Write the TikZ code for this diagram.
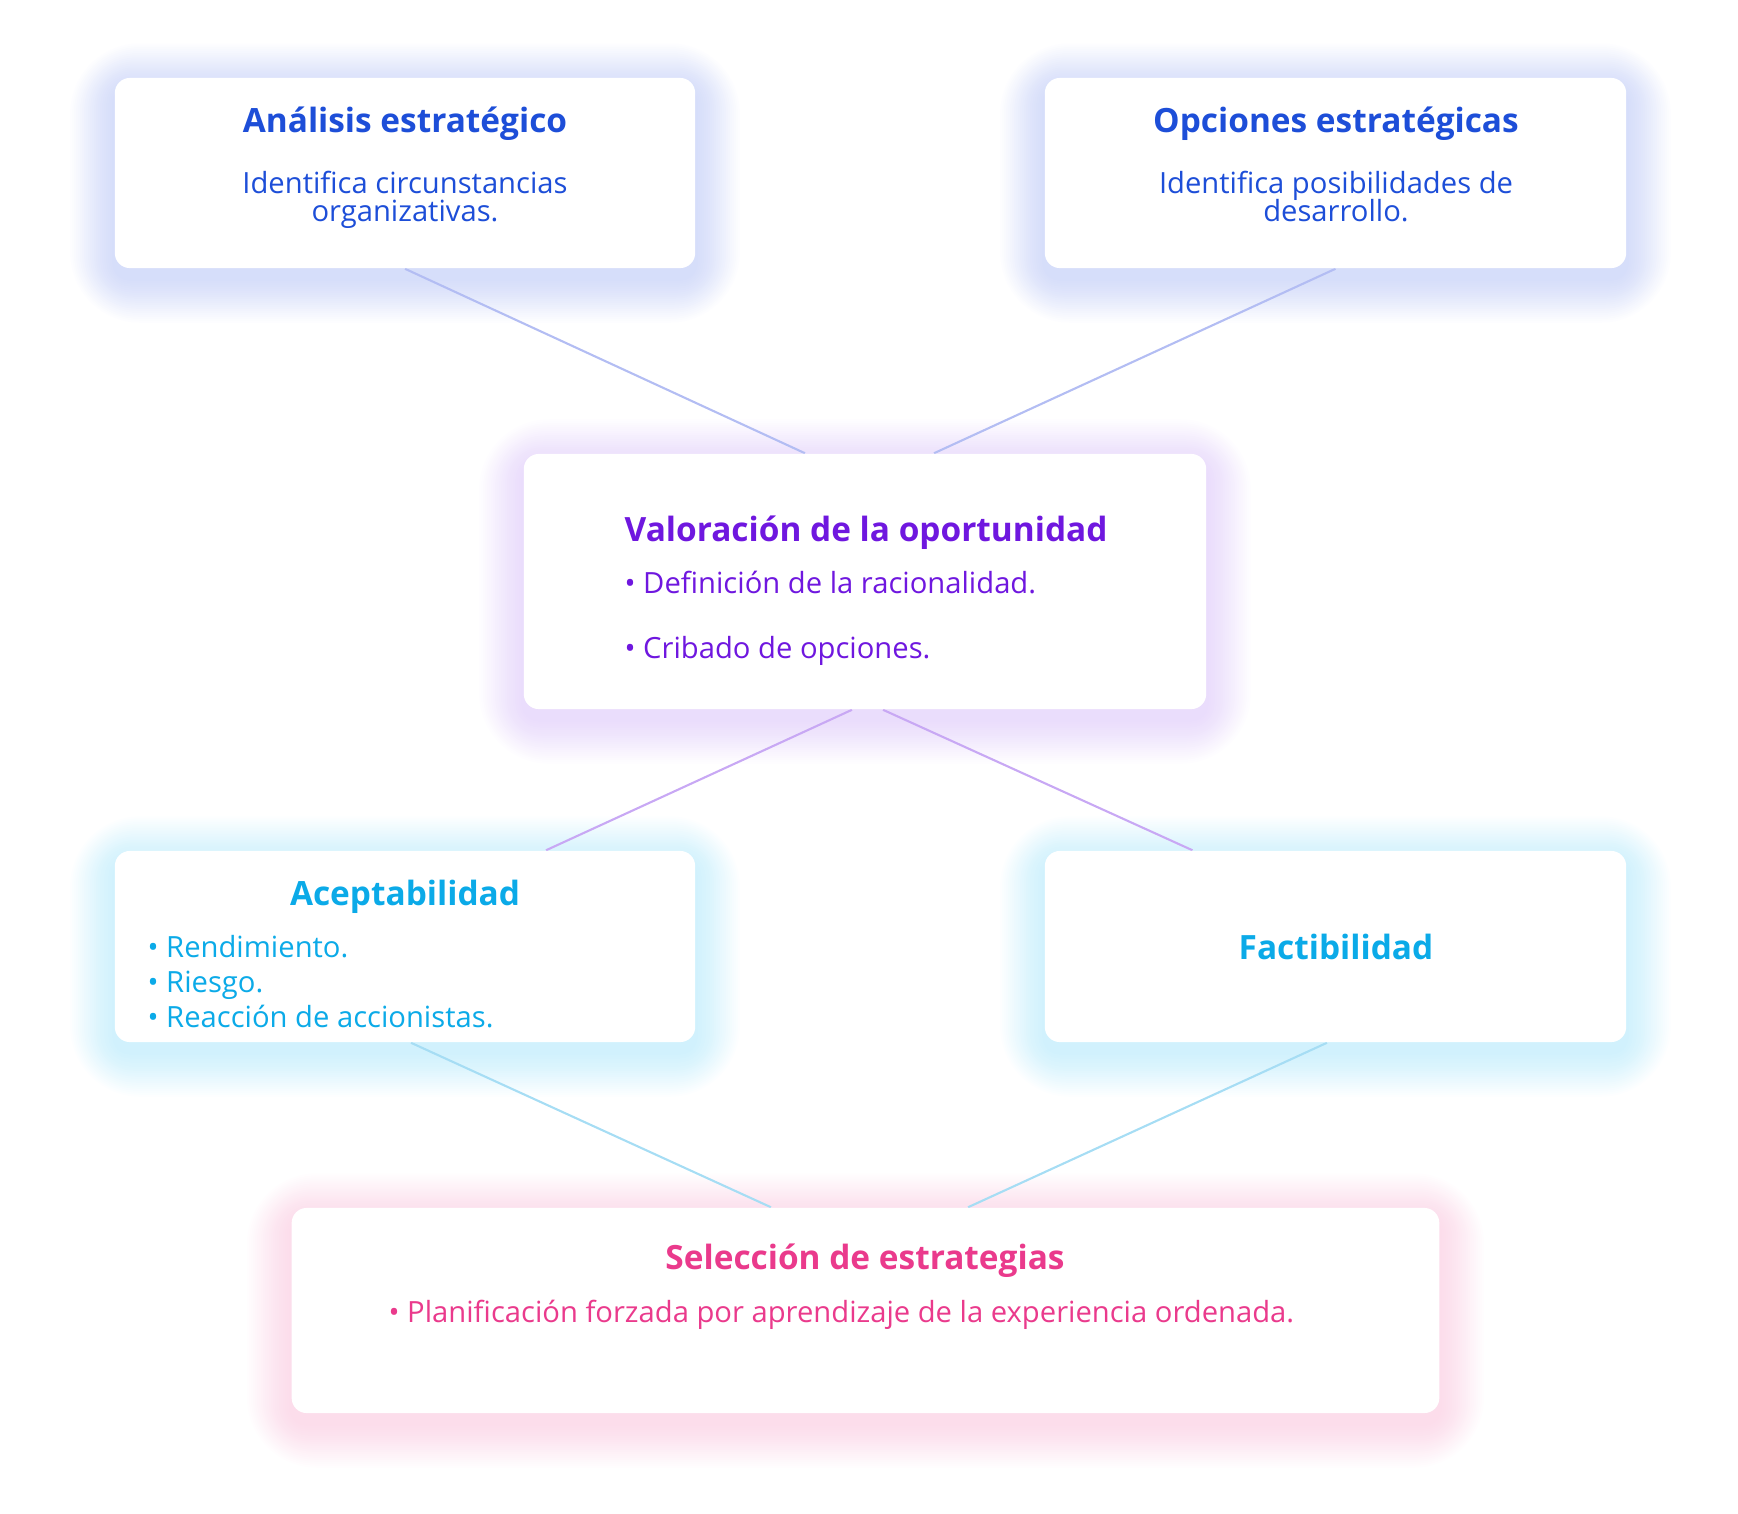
\documentclass[tikz,border=0pt]{standalone}
\usepackage{fontspec}
\setmainfont{Open Sans}
\usetikzlibrary{calc,backgrounds}

\definecolor{stratblue}{HTML}{1D4ED8}
\definecolor{valpurple}{HTML}{6F17DF}
\definecolor{acepcyan}{HTML}{0BAAE8}
\definecolor{selpink}{HTML}{EA3A8C}
\definecolor{lineblue}{HTML}{B3BDF3}
\definecolor{linepurple}{HTML}{C8A8F4}
\definecolor{linecyan}{HTML}{A6DDF4}
\definecolor{glowblue}{HTML}{4F6FE8}
\definecolor{glowpurple}{HTML}{A56CF0}
\definecolor{glowcyan}{HTML}{38C4F5}
\definecolor{glowpink}{HTML}{F06AA8}

\newcommand{\glowbox}[2]{%
  \foreach \g in {1,...,22}{%
    \fill[#2, opacity=0.011, rounded corners={0.15cm+\g*0.025cm}]
      ($(#1.north west)+(-2*\g,-2*\g+10)$) rectangle ($(#1.south east)+(2*\g,2*\g+10)$);
  }%
}

\begin{document}
\begin{tikzpicture}[
  x=0.01cm, y=-0.01cm,
  box/.style={fill=white, rounded corners=0.15cm, inner sep=0pt},
  ttl/.style={font=\bfseries\fontsize{9.5}{11}\selectfont, anchor=base, inner sep=0pt},
  txt/.style={font=\fontsize{8.3}{9}\selectfont, anchor=base, inner sep=0pt},
  bul/.style={txt, anchor=base west},
  link/.style={line width=0.6pt}
]
\path[use as bounding box] (0,0) rectangle (1738,1514);

\node[box, minimum width=5.8cm, minimum height=1.9cm] (anl) at (405,173) {};
\node[ttl, text=stratblue] (anl-t) at (405,132) {Análisis estratégico};
\node[txt, text=stratblue] (anl-1) at (405,193) {Identifica circunstancias};
\node[txt, text=stratblue] (anl-2) at (405,221) {organizativas.};

\node[box, minimum width=5.81cm, minimum height=1.9cm] (opc) at (1335.5,173) {};
\node[ttl, text=stratblue] (opc-t) at (1336,132) {Opciones estratégicas};
\node[txt, text=stratblue] (opc-1) at (1336,193) {Identifica posibilidades de};
\node[txt, text=stratblue] (opc-2) at (1336,221) {desarrollo.};

\node[box, minimum width=6.82cm, minimum height=2.55cm] (val) at (865,581.5) {};
\node[ttl, anchor=base west, text=valpurple] (val-t) at (624,541) {Valoración de la oportunidad};
\node[bul, text=valpurple] (val-1) at (624,593) {• Definición de la racionalidad.};
\node[bul, text=valpurple] (val-2) at (624,658) {• Cribado de opciones.};

\node[box, minimum width=5.8cm, minimum height=1.91cm] (acep) at (405,946.5) {};
\node[ttl, text=acepcyan] (acep-t) at (405,905) {Aceptabilidad};
\foreach \t [count=\i] in {Rendimiento., Riesgo., Reacción de accionistas.}
  \node[bul, text=acepcyan] (acep-\i) at (147,{957+35*(\i-1)}) {• \t};

\node[box, minimum width=5.81cm, minimum height=1.91cm] (fact) at (1335.5,946.5) {};
\node[ttl, text=acepcyan] (fact-t) at (1336,959) {Factibilidad};

\node[box, minimum width=11.47cm, minimum height=2.05cm] (sel) at (865.5,1310.5) {};
\node[ttl, text=selpink] (sel-t) at (865,1269) {Selección de estrategias};
\node[bul, text=selpink] (sel-1) at (388,1322) {• Planificación forzada por aprendizaje de la experiencia ordenada.};

\begin{scope}[on background layer]
  \glowbox{anl}{glowblue}
  \glowbox{opc}{glowblue}
  \glowbox{val}{glowpurple}
  \glowbox{acep}{glowcyan}
  \glowbox{fact}{glowcyan}
  \glowbox{sel}{glowpink}
  \draw[link, lineblue] (anl.south) -- ([xshift=-0.6cm]val.north);
  \draw[link, lineblue] (opc.south) -- ([xshift=0.69cm]val.north);
  \draw[link, linepurple] ([xshift=-0.13cm]val.south) -- ([xshift=1.41cm]acep.north);
  \draw[link, linepurple] ([xshift=0.18cm]val.south) -- ([xshift=-1.43cm]fact.north);
  \draw[link, linecyan] ([xshift=0.06cm]acep.south) -- ([xshift=-0.945cm]sel.north);
  \draw[link, linecyan] ([xshift=-0.085cm]fact.south) -- ([xshift=1.025cm]sel.north);
\end{scope}
\end{tikzpicture}
\end{document}
